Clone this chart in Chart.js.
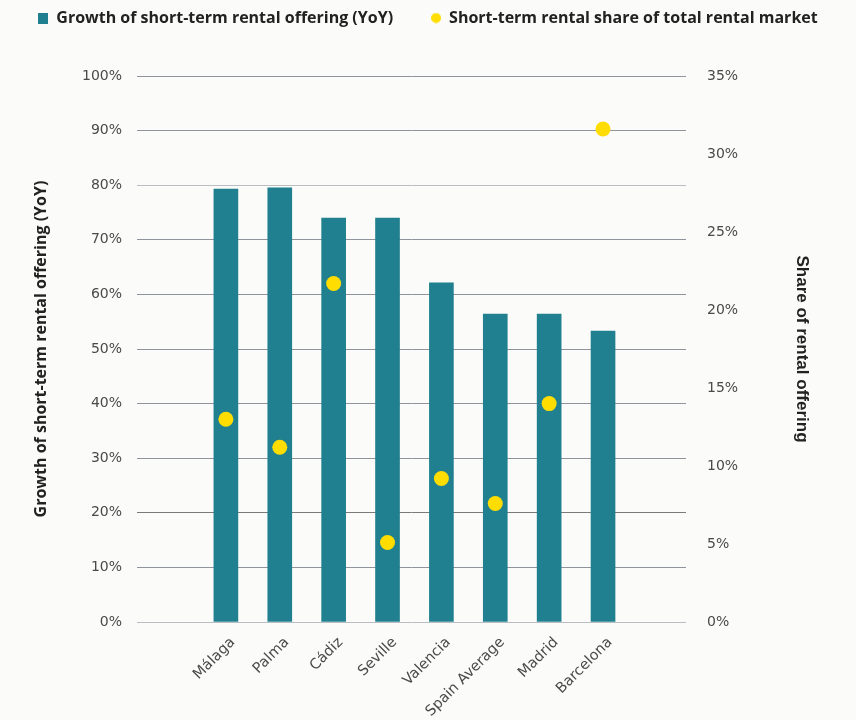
<!DOCTYPE html>
<html>
<head>
<meta charset="utf-8">
<script src="https://cdn.jsdelivr.net/npm/chart.js@4.4.1/dist/chart.umd.min.js"></script>
<style>
  html, body { margin: 0; padding: 0; background: #fbfbf9; }
  #wrap { width: 856px; height: 720px; position: relative; }
</style>
</head>
<body>
<div id="wrap"><canvas id="chart"></canvas></div>
<script>
// ─── Data ────────────────────────────────────────────────────────────────────
const categories = ['Málaga', 'Palma', 'Cádiz', 'Seville', 'Valencia', 'Spain Average', 'Madrid', 'Barcelona'];
const growthYoY = [79.3, 79.5, 74.0, 74.0, 62.1, 56.4, 56.4, 53.3];   // left axis, %
const rentalShare = [13.0, 11.2, 21.7, 5.1, 9.2, 7.6, 14.0, 31.6];    // right axis, %
const leftTicks = [0, 10, 20, 30, 40, 50, 60, 70, 80, 90, 100];
const rightTicks = [0, 5, 10, 15, 20, 25, 30, 35];

const TEAL = '#21808f';
const YELLOW = '#ffdd00';
const tickFont = { family: 'DejaVu Sans', size: 14 };
const boldFont = { family: 'Open Sans', size: 16, weight: 'bold' };

// little legend swatches
function swatch(color, round) {
  const c = document.createElement('canvas');
  c.width = 10; c.height = 11;
  const g = c.getContext('2d');
  g.fillStyle = color;
  if (round) { g.beginPath(); g.arc(5, 5.5, 5, 0, Math.PI * 2); g.fill(); }
  else g.fillRect(0, 0, 10, 11);
  return c;
}
const barSwatch = swatch(TEAL, false);
const dotSwatch = swatch(YELLOW, true);

// legend: one row, fixed-height band above the plot
const legendBand = {
  id: 'legendBand',
  beforeLayout(chart) {
    const lg = chart.legend;
    if (!lg || lg._banded) return;
    const fit = lg.fit.bind(lg);
    lg.fit = () => {
      const w = lg.maxWidth;
      lg.maxWidth = w + 60;
      fit();
      lg.maxWidth = w;
      lg.width = w;
      lg.height = 104;
    };
    lg._banded = true;
  }
};

function gridColor(ctx) {
  const v = ctx.tick && ctx.tick.value;
  if (v === 20) return '#7a7a7a';
  if (v === 0 || v === 80) return '#babec3';
  return '#8f949c';
}

new Chart(document.getElementById('chart'), {
  data: {
    datasets: [
      {
        type: 'line',
        label: 'Short-term rental share of total rental market',
        data: categories.map((c, i) => ({ x: i, y: rentalShare[i] })),
        yAxisID: 'y1',
        showLine: false,
        pointRadius: 7.5,
        pointHoverRadius: 7.5,
        pointBackgroundColor: YELLOW,
        pointBorderWidth: 0,
        backgroundColor: YELLOW,
        borderColor: YELLOW,
        pointStyle: 'circle',
        order: 0,
      },
      {
        type: 'bar',
        label: 'Growth of short-term rental offering (YoY)',
        data: categories.map((c, i) => ({ x: i, y: growthYoY[i] })),
        yAxisID: 'y',
        backgroundColor: TEAL,
        barThickness: 24,
        order: 1,
      },
    ],
  },
  options: {
    responsive: true,
    maintainAspectRatio: false,
    animation: false,
    layout: { padding: { top: -28, left: 0, right: 0, bottom: 0 } },
    plugins: {
      tooltip: { enabled: false },
      legend: {
        position: 'top',
        reverse: true,
        labels: {
          usePointStyle: true,
          boxWidth: 10,
          boxHeight: 11,
          padding: 38,
          color: '#222',
          font: { family: 'Open Sans', size: 16, weight: 'bold' },
          generateLabels(chart) {
            const items = Chart.defaults.plugins.legend.labels.generateLabels(chart);
            items.forEach(it => {
              it.pointStyle = chart.data.datasets[it.datasetIndex].type === 'bar' ? barSwatch : dotSwatch;
            });
            return items;
          },
        },
      },
    },
    scales: {
      x: {
        type: 'linear',
        min: -1.65,
        max: 8.54,
        offset: false,
        grid: { display: false },
        border: { display: false },
        afterBuildTicks: s => { s.ticks = categories.map((c, i) => ({ value: i })); },
        afterFit: s => { s.height = 98; },
        ticks: {
          autoSkip: false,
          minRotation: 45,
          maxRotation: 45,
          padding: 4,
          labelOffset: 7,
          color: '#4a4a4a',
          font: { family: 'DejaVu Sans', size: 14.5 },
          callback: v => categories[v] ?? '',
        },
      },
      y: {
        position: 'left',
        min: 0,
        max: 100,
        afterBuildTicks: s => { s.ticks = leftTicks.map(v => ({ value: v })); },
        afterFit: s => { s.width = 137; },
        grid: { color: gridColor, lineWidth: 1, drawTicks: false },
        border: { display: false },
        ticks: { padding: 15, color: '#4a4a4a', font: tickFont, callback: v => v + '%' },
        title: {
          display: true,
          text: 'Growth of short-term rental offering (YoY)',
          color: '#222',
          font: boldFont,
          padding: { top: 32, bottom: 0 },
        },
      },
      y1: {
        position: 'right',
        min: 0,
        max: 35,
        afterBuildTicks: s => { s.ticks = rightTicks.map(v => ({ value: v })); },
        afterFit: s => { s.width = 170; },
        grid: { display: false, drawTicks: false },
        border: { display: false },
        ticks: { padding: 21, color: '#4a4a4a', font: tickFont, callback: v => v + '%' },
        title: {
          display: true,
          text: 'Share of rental offering',
          color: '#222',
          font: { family: 'Liberation Sans', size: 17, weight: 'bold' },
          padding: { top: 44, bottom: 0 },
        },
      },
    },
  },
  plugins: [legendBand],
});
</script>
</body>
</html>
